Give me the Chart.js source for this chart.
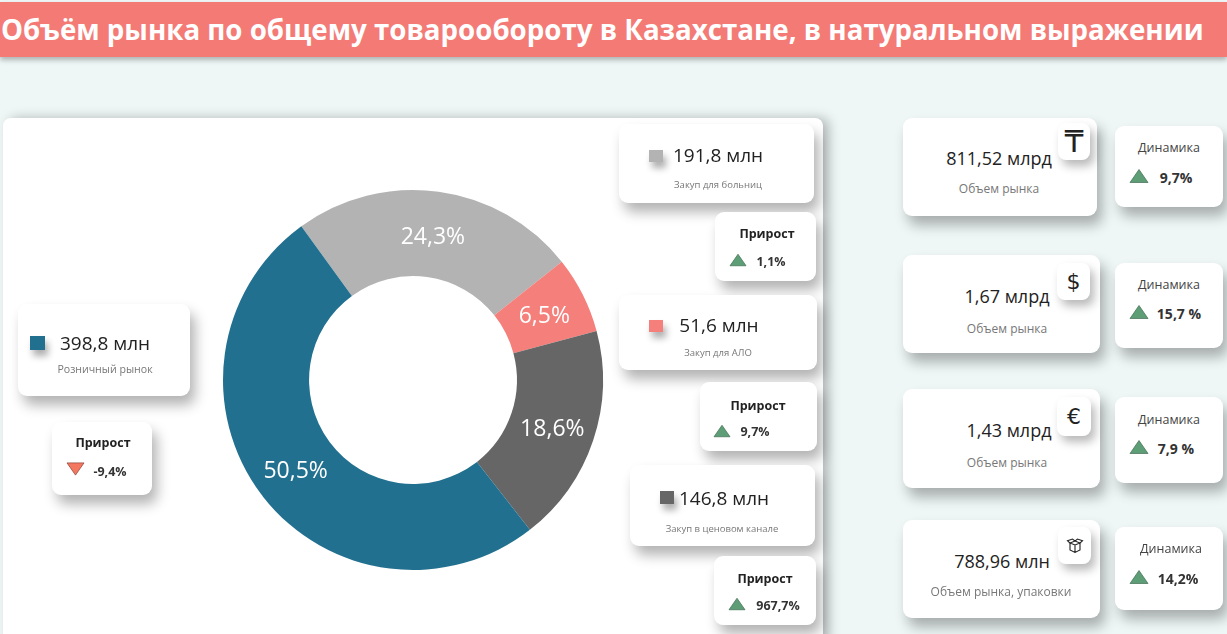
<!DOCTYPE html>
<html lang="ru"><head><meta charset="utf-8">
<script src="https://cdn.jsdelivr.net/npm/chart.js@4"></script>
<style>
html,body{margin:0;padding:0;width:1227px;height:634px;overflow:hidden;background:#eef7f6;font-family:"Open Sans","Noto Sans",sans-serif;color:#222}
#head{position:absolute;left:0;top:2px;width:1227px;height:55px;background:#f47a76;box-shadow:0 3px 5px rgba(0,0,0,.28)}
#head span{position:absolute;left:1px;top:27px;transform:translateY(-50%);color:#fff;font-weight:700;font-size:27.7px;white-space:nowrap}
#panel{position:absolute;left:3px;top:118px;width:820px;height:530px;background:#fff;border-radius:8px;box-shadow:6px 0 12px rgba(0,0,0,.25)}
#wrap{position:absolute;left:203px;top:170px;width:420px;height:420px}
.card{position:absolute;background:#fff;border-radius:9px;box-shadow:5px 9px 13px rgba(0,0,0,.3)}
.t{position:absolute;transform:translate(-50%,-50%);white-space:nowrap}
.val{font-size:18px;color:#222}
.valL{font-size:19px;color:#222}
.sub{font-size:9.5px;color:#777}
.subL{font-size:10.6px;color:#777}
.sub2{font-size:12px;color:#777}
.gh{font-size:12.5px;font-weight:700;color:#222}
.dh{font-size:12.5px;color:#444}
.gv{font-size:12.5px;font-weight:700;color:#333}
.dv{font-size:14px;font-weight:700;color:#333}
.sq{position:absolute;box-shadow:3px 6px 7px rgba(0,0,0,.32)}
.icon{position:absolute;background:#fff;border-radius:8px;box-shadow:4px 6px 10px rgba(0,0,0,.28);display:flex;align-items:center;justify-content:center;color:#222}
svg.tri{position:absolute;overflow:visible}
</style></head><body>
<div id="head"><span id="title"></span></div>
<div id="panel"></div>
<div id="wrap"><canvas id="donut" width="420" height="420"></canvas></div>
<div id="ui"></div>
<script>
const chartTitle = "Объём рынка по общему товарообороту в Казахстане, в натуральном выражении";
const segmentNames = ["Закуп для больниц", "Закуп для АЛО", "Закуп в ценовом канале", "Розничный рынок"];
const segmentVolumes = [191.8, 51.6, 146.8, 398.8];
const segmentVolumeLabels = ["191,8 млн", "51,6 млн", "146,8 млн", "398,8 млн"];
const segmentShareLabels = ["24,3%", "6,5%", "18,6%", "50,5%"];
const segmentGrowth = ["1,1%", "9,7%", "967,7%", "-9,4%"];
const growthHeader = "Прирост";
const marketValues = ["811,52 млрд", "1,67 млрд", "1,43 млрд", "788,96 млн"];
const marketNames = ["Объем рынка", "Объем рынка", "Объем рынка", "Объем рынка, упаковки"];
const marketDynamics = ["9,7%", "15,7 %", "7,9 %", "14,2%"];
const dynamicsHeader = "Динамика";
const marketIcons = ["₸", "$", "€", "box"];

const segmentColors = ["#b3b3b3", "#f47f7b", "#666666", "#22708f"];

document.getElementById('title').textContent = chartTitle;

const shareLabelPlugin = {
  id: 'shareLabels',
  afterDatasetsDraw(chart) {
    const ctx = chart.ctx, meta = chart.getDatasetMeta(0);
    ctx.save();
    ctx.fillStyle = '#fff';
    ctx.font = '23px "Open Sans", sans-serif';
    ctx.textAlign = 'center'; ctx.textBaseline = 'middle';
    meta.data.forEach((arc, i) => {
      const p = arc.tooltipPosition();
      ctx.fillText(segmentShareLabels[i], p.x, p.y + 3);
    });
    ctx.restore();
  }
};
new Chart(document.getElementById('donut'), {
  type: 'doughnut',
  data: { labels: segmentNames, datasets: [{ data: segmentVolumes, backgroundColor: segmentColors, borderWidth: 0 }] },
  options: {
    responsive: false, animation: false, rotation: -36, radius: 190, cutout: '54.7%',
    layout: { padding: 0 },
    plugins: { legend: { display: false }, tooltip: { enabled: false } }
  },
  plugins: [shareLabelPlugin]
});

const ui = document.getElementById('ui');
function box(x0, y0, x1, y1) {
  const d = document.createElement('div'); d.className = 'card';
  d.style.cssText = `left:${x0}px;top:${y0}px;width:${x1 - x0}px;height:${y1 - y0}px`;
  ui.appendChild(d);
}
function text(cls, s, cx, cy) {
  const d = document.createElement('div'); d.className = 't ' + cls; d.textContent = s;
  d.style.left = cx + 'px'; d.style.top = cy + 'px'; ui.appendChild(d);
}
function tri(x0, x1, cy, up) {
  const w = x1 - x0, h = w * 0.72, y0 = cy - h / 2;
  const pts = up ? `${x0},${y0 + h} ${x0 + w / 2},${y0} ${x1},${y0 + h}` : `${x0},${y0} ${x0 + w / 2},${y0 + h} ${x1},${y0}`;
  ui.insertAdjacentHTML('beforeend', `<svg class="tri" style="left:0;top:0" width="1" height="1"><polygon points="${pts}" fill="${up ? '#5e9e77' : '#f4775f'}" stroke="${up ? '#3f6b52' : '#8a3d33'}" stroke-width=".7"/></svg>`);
}
const segLayout = [
  { c:[619,124,814,203], sq:[649,150,14,12], v:[718,155], s:[718,184], sc:'sub', g:[715,212,816,281], gh:[767,233], tr:[730,746,260], gv:[771,261] },
  { c:[619,295,817,370], sq:[649,320,14,12], v:[719,325], s:[718,352], sc:'sub', g:[700,382,817,451], gh:[758,405], tr:[714,730,431], gv:[755,431] },
  { c:[630,465,815,546], sq:[660,491,14,13], v:[724,498], s:[722,528], sc:'sub', g:[714,556,816,625], gh:[765,578], tr:[729,745,604], gv:[778,605] },
  { c:[18,304,190,396],  sq:[30,336,15,14], v:[105,343], s:[105,369], sc:'subL', g:[52,422,152,495],  gh:[103,442], tr:[67,84,469],   gv:[110,471] }
];
segLayout.forEach((L, i) => {
  box(...L.c);
  ui.insertAdjacentHTML('beforeend', `<div class="sq" style="left:${L.sq[0]}px;top:${L.sq[1]}px;width:${L.sq[2]}px;height:${L.sq[3]}px;background:${segmentColors[i]}"></div>`);
  text('valL', segmentVolumeLabels[i], L.v[0], L.v[1]);
  text(L.sc, segmentNames[i], L.s[0], L.s[1]);
  box(...L.g);
  text('gh', growthHeader, L.gh[0], L.gh[1]);
  tri(L.tr[0], L.tr[1], L.tr[2], !segmentGrowth[i].startsWith('-'));
  text('gv', segmentGrowth[i], L.gv[0], L.gv[1]);
});
const mktLayout = [
  { c:[903,118,1097,216], v:[999,158],  s:[999,188],  ic:[1058,123,32,37], d:[1115,126,1223,207], dh:[1169,147],  tr:[1130,1148,176], dv:[1176,177] },
  { c:[903,255,1100,353], v:[1007,296], s:[1007,328], ic:[1057,263,33,37], d:[1115,263,1223,348], dh:[1169,284],  tr:[1130,1148,312], dv:[1179,313] },
  { c:[903,389,1100,488], v:[1009,430], s:[1007,462], ic:[1057,397,34,39], d:[1115,397,1223,483], dh:[1169,419],  tr:[1130,1148,447], dv:[1176,448] },
  { c:[903,520,1100,618], v:[1002,561], s:[1001,591], ic:[1058,527,33,37], d:[1115,527,1223,610], dh:[1171,548],  tr:[1130,1148,577], dv:[1178,578] }
];
const boxSvg = '<svg width="18" height="16" viewBox="0 0 18 16" fill="none" stroke="#222" stroke-width="1.1"><path d="M4 5 L9 7 L14 5 L9 3 Z M4 5 V12 L9 14.5 L14 12 V5 M9 7 V14.5 M4 5 L1.5 2.8 L6.5 1 L9 3 L11.5 1 L16.5 2.8 L14 5"/></svg>';
mktLayout.forEach((L, i) => {
  box(...L.c);
  text('val', marketValues[i], L.v[0], L.v[1]);
  text('sub2', marketNames[i], L.s[0], L.s[1]);
  const inner = marketIcons[i] === 'box' ? boxSvg : `<span style="font:${i === 0 ? 30 : 22}px 'DejaVu Sans'">${marketIcons[i]}</span>`;
  ui.insertAdjacentHTML('beforeend', `<div class="icon" style="left:${L.ic[0]}px;top:${L.ic[1]}px;width:${L.ic[2]}px;height:${L.ic[3]}px">${inner}</div>`);
  box(...L.d);
  text('dh', dynamicsHeader, L.dh[0], L.dh[1]);
  tri(L.tr[0], L.tr[1], L.tr[2], true);
  text('dv', marketDynamics[i], L.dv[0], L.dv[1]);
});
</script>
</body></html>
